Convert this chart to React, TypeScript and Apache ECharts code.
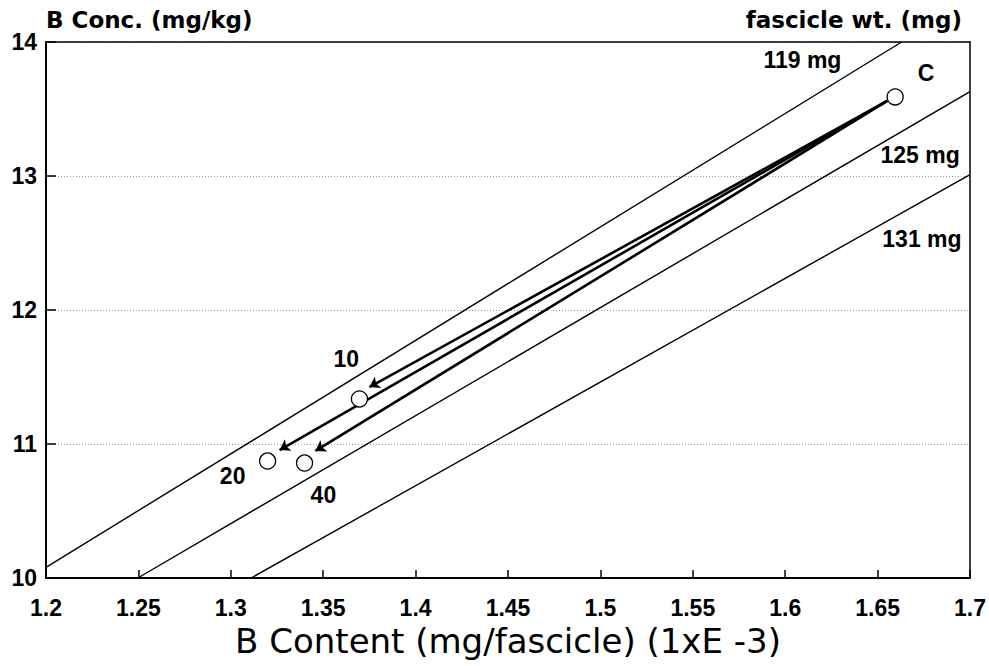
import React, { useEffect, useRef } from "react";
import * as echarts from "echarts";

// Reference weight lines (fascicle wt.), endpoints: [B content, B conc.]
const weightLines = [
  { name: "119 mg", points: [[1.2, 10.08], [1.663, 14.0]] },
  { name: "125 mg", points: [[1.2497, 10.0], [1.7, 13.63]] },
  { name: "131 mg", points: [[1.311, 10.0], [1.7, 13.01]] },
];

// Measured points
const pointNames = ["C", "10", "20", "40"];
const pointX = [1.6595, 1.3696, 1.3199, 1.3399];
const pointY = [13.59, 11.336, 10.873, 10.858];

// Arrows from control (C) to each treatment
const arrowStart = [1.6552, 13.56];
const arrowEnds = [
  [1.375, 11.425],
  [1.3264, 10.955],
  [1.3458, 10.948],
];

// Text annotations, anchored in data coordinates
const annotations = [
  { text: "C", at: [1.6762, 13.772] },
  { text: "10", at: [1.3625, 11.631] },
  { text: "20", at: [1.301, 10.761] },
  { text: "40", at: [1.3501, 10.619] },
  { text: "119 mg", at: [1.6093, 13.866] },
  { text: "125 mg", at: [1.673, 13.153] },
  { text: "131 mg", at: [1.674, 12.53] },
];

const xMin = 1.2;
const xMax = 1.7;
const xStep = 0.05;
const yMin = 10;
const yMax = 14;
const yStep = 1;

const LAB_FONT = "'Liberation Sans', Arial, sans-serif";
const NAME_FONT = "'DejaVu Sans', 'Liberation Sans', sans-serif";

export default function App() {
  const ref = useRef<HTMLDivElement>(null);

  useEffect(() => {
    if (!ref.current) return;
    const chart = echarts.init(ref.current, undefined, { renderer: "svg" });

    const option: any = {
      animation: false,
      backgroundColor: "#ffffff",
      grid: { left: 46, right: 19, top: 42, bottom: 88, containLabel: false },
      xAxis: [
        {
          type: "value",
          min: xMin,
          max: xMax,
          interval: xStep,
          position: "bottom",
          name: "B Content (mg/fascicle) (1xE -3)",
          nameLocation: "middle",
          nameGap: 45,
          nameTextStyle: {
            fontFamily: NAME_FONT,
            fontSize: 34,
            color: "#000",
            fontWeight: "normal",
          },
          axisLine: { show: true, onZero: false, lineStyle: { color: "#000", width: 2 } },
          axisTick: { show: true, inside: true, length: 8, lineStyle: { color: "#000", width: 1.5 } },
          axisLabel: {
            show: true,
            margin: 18,
            fontFamily: LAB_FONT,
            fontWeight: "bold",
            fontSize: 23,
            color: "#000",
            showMinLabel: true,
            showMaxLabel: true,
            formatter: (v: number) => String(+v.toFixed(2)),
          },
          splitLine: { show: false },
        },
        {
          type: "value",
          min: xMin,
          max: xMax,
          position: "top",
          axisLine: { show: true, onZero: false, lineStyle: { color: "#000", width: 1.5 } },
          axisTick: { show: false },
          axisLabel: { show: false },
          splitLine: { show: false },
        },
      ],
      yAxis: [
        {
          type: "value",
          min: yMin,
          max: yMax,
          interval: yStep,
          position: "left",
          name: "B Conc. (mg/kg)",
          nameLocation: "end",
          nameGap: 11,
          nameTextStyle: {
            fontFamily: NAME_FONT,
            fontWeight: "bold",
            fontSize: 23,
            color: "#000",
            align: "left",
          },
          axisLine: { show: true, onZero: false, lineStyle: { color: "#000", width: 2 } },
          axisTick: { show: true, inside: true, length: 10, lineStyle: { color: "#000", width: 1.5 } },
          axisLabel: {
            show: true,
            margin: 9,
            fontFamily: LAB_FONT,
            fontWeight: "bold",
            fontSize: 23,
            color: "#000",
          },
          splitLine: { show: true, lineStyle: { color: "#9a9a9a", type: [1, 2], width: 1 } },
        },
        {
          type: "value",
          min: yMin,
          max: yMax,
          position: "right",
          name: "fascicle wt. (mg)",
          nameLocation: "end",
          nameGap: 11,
          nameTextStyle: {
            fontFamily: NAME_FONT,
            fontWeight: "bold",
            fontSize: 23,
            color: "#000",
            align: "right",
            padding: [0, 8, 0, 0],
          },
          axisLine: { show: true, onZero: false, lineStyle: { color: "#000", width: 1.5 } },
          axisTick: { show: false },
          axisLabel: { show: false },
          splitLine: { show: false },
        },
      ],
      series: [
        ...weightLines.map((w) => ({
          type: "line",
          name: w.name,
          data: w.points,
          showSymbol: false,
          symbol: "none",
          clip: true,
          lineStyle: { color: "#000", width: 1.4 },
          z: 2,
        })),
        {
          type: "lines",
          coordinateSystem: "cartesian2d",
          data: arrowEnds.map((e) => ({ coords: [arrowStart, e] })),
          symbol: ["none", "arrow"],
          symbolSize: [0, 10],
          lineStyle: { color: "#000", width: 2.6, opacity: 1 },
          z: 3,
        },
        {
          type: "scatter",
          data: pointX.map((x, i) => ({ name: pointNames[i], value: [x, pointY[i]] })),
          symbol: "circle",
          symbolSize: 16,
          itemStyle: { color: "#fff", borderColor: "#000", borderWidth: 1.3, opacity: 1 },
          z: 4,
        },
        {
          type: "scatter",
          data: annotations.map((a) => ({ name: a.text, value: a.at })),
          symbolSize: 0,
          itemStyle: { color: "#000", opacity: 1 },
          silent: true,
          label: {
            show: true,
            position: "inside",
            formatter: (p: any) => p.name,
            fontFamily: LAB_FONT,
            fontWeight: "bold",
            fontSize: 23,
            color: "#000",
            opacity: 1,
            textBorderWidth: 0,
          },
          z: 5,
        },
      ],
    };

    chart.setOption(option);
    return () => chart.dispose();
  }, []);

  return (
    <div
      ref={ref}
      style={{ position: "absolute", left: 0, top: 0, width: 989, height: 666 }}
    />
  );
}
